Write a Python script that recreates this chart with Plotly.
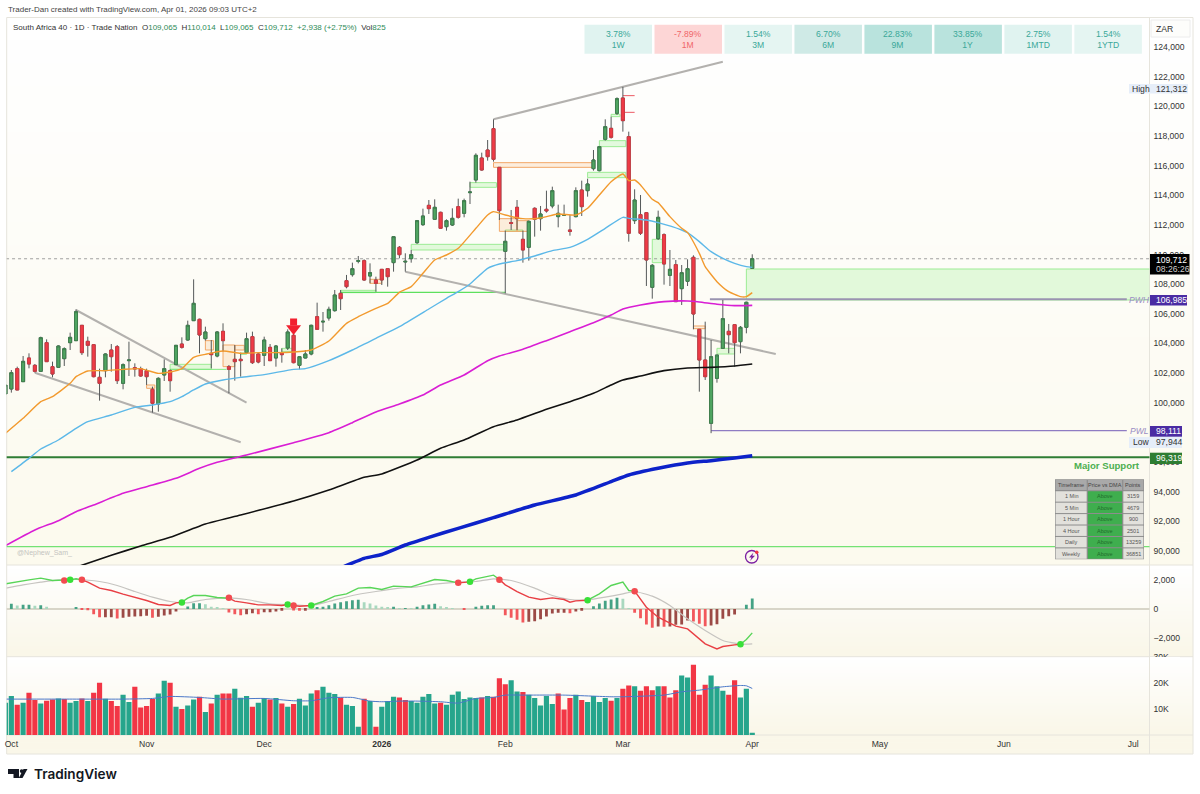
import plotly.graph_objects as go

W = 1200
H = 794
FONT = "Liberation Sans"
TXT = 8.6

# candles, one per trading day starting at the end of Sep 2025
opens = [100588,100925,102297,101420,103017,102522,102117,104051,102432,102387,
         102972,104051,104186,105221,104141,103916,101712,102162,103556,103781,
         101307,102837,102365,102297,102162,100903,99913,101870,102162,102567,
         103961,104231,105536,105626,104321,103332,103152,104816,102432,102927,
         102927,103377,104456,103287,103197,103736,103017,103377,103691,104546,
         102522,103017,103287,105805,105446,105716,106210,107380,108234,108639,
         109539,109584,108549,108279,108999,109044,109450,110484,109494,109719,
         110798,112013,113317,112373,112845,111878,111990,113228,112778,114172,
         115027,116511,117051,118490,115881,110214,112148,113183,111024,110484,
         113115,112418,113048,113273,112553,112643,111653,112553,114352,114307,
         115791,115656,117770,118513,119525,120559,117950,112283,112688,112823,
         107785,111069,111338,108594,109314,107694,108189,109809,104951,102882,
         98609,101645,103669,104816,105266,104119,105086,109065]
highs = [101195,102207,102432,103152,103332,102612,104456,104276,102770,103871,
         103736,104726,106300,105221,104456,103961,102297,103332,103961,103894,
         102657,104118,102657,102432,102297,101083,101712,102927,102252,103894,
         104411,105536,108324,105671,105131,104231,104839,105356,102545,103894,
         103377,104726,104794,103332,104456,103961,103894,103669,104951,104636,
         103152,103556,105266,106750,106120,106480,107605,107605,108620,109449,
         109899,109674,109404,108504,108999,109044,111248,110573,110079,110304,
         112328,113093,113677,113722,112890,112373,113115,113768,113768,114914,
         116826,116871,117725,119120,115881,111608,113003,113677,111608,112283,
         113183,113273,114307,114577,113363,113363,112665,114532,114982,115117,
         117051,117321,119120,119300,120604,121312,118288,114397,114015,112868,
         109359,112958,111428,110303,109629,109291,109674,109944,104951,105468,
         104231,103219,106930,105311,105266,105176,106817,110014]
lows = [100588,100680,100858,101420,102320,102027,102072,102770,101712,102387,
        102477,103556,104186,103219,103107,101712,100138,101712,102095,101262,
        100903,101802,101757,101757,101195,99328,99395,101465,100745,102545,
        103646,104186,105536,103332,104186,102320,103062,103444,100633,101487,
        101757,103332,102612,102657,102477,102837,102432,102702,103556,102657,
        102252,102994,103197,104906,104794,105536,106142,106255,107717,108504,
        109404,108234,108054,107492,107942,107830,108842,109742,108842,109449,
        110709,111923,112733,112328,111743,111608,111923,112418,112508,113407,
        114847,115656,116331,116264,112328,107380,111653,111653,109449,109584,
        111204,111608,112823,113115,111833,112598,111271,112508,112598,113902,
        115656,115611,117681,117816,119412,118288,110866,112058,111316,107875,
        107020,110978,107965,107874,106817,106592,107874,104951,100745,101532,
        97944,101352,103669,103331,102432,103331,104681,109065]
closes = [101195,102027,100858,102792,102612,102117,104389,102770,101937,103826,
          103646,104411,106142,103376,103871,101757,101307,103287,103107,101487,
          102567,102882,102275,101802,101757,99958,101645,102297,101487,103871,
          103736,105221,106705,104569,104771,103242,104771,104186,102252,102770,
          102837,104321,102702,102747,104231,102837,103826,103242,104771,102702,
          103107,103287,105221,104951,105491,106300,107267,107020,107830,109044,
          109584,108279,108774,108054,108280,108505,111204,109989,109539,109989,
          112283,112598,113093,113183,111765,112283,112440,112508,113632,114217,
          116691,115701,116601,116421,112958,110889,112103,112418,110304,112238,
          112373,112733,112935,114307,112778,112688,111563,114307,113228,114757,
          116376,117276,118625,117906,120514,119030,111428,113677,111428,109629,
          109269,112508,109359,108999,106817,108774,109044,105985,102882,101757,
          103107,103219,105671,104591,104051,105086,106774,109712]
days = list(range(len(opens)))

# moving averages, read at knots
ma_orange_x = [0,3,6,8,11,12,14,17,20,23,26,28,30,32,34,37,40,43,46,49,52,55,58,60,63,65,67,69,71,73,75,77,80,82,83,85,88,91,94,97,99,101,103,105,106,107,108,110,111,113,115,116,118,119,121,123,125,126,127]
ma_orange_y = [97934,98946,100070,100408,101307,101757,102140,102162,102252,102297,101982,102072,102297,103062,103264,103489,103332,103377,103377,103422,103556,104164,105356,105800,106368,106705,107447,107830,108729,109629,109966,110416,111766,112665,112890,112665,112418,112462,112733,112665,113115,114014,114914,115432,114981,115027,114690,113722,113497,112553,111766,111473,110079,109179,108167,107492,107155,107155,107425]
ma_blue_x = [1,4,6,9,12,14,18,22,25,28,30,32,34,37,40,44,49,51,55,59,63,67,72,75,77,79,82,84,87,90,93,96,99,102,105,106,109,111,115,116,118,120,122,124,126,127]
ma_blue_y = [95348,96247,96877,97484,98271,98721,99171,99688,99846,100070,100408,100858,101262,101532,101712,101892,102252,102297,102837,103556,104344,105131,106323,107043,107492,108010,109067,109359,109584,109899,110259,110484,111024,111766,112508,112440,112328,112148,111653,111473,110866,110191,109741,109404,109179,109134]
ma_magenta_x = [0,5,9,12,15,20,24,29,33,36,41,49,55,59,63,67,71,74,78,82,84,88,92,96,100,103,105,108,112,116,118,121,124,127]
ma_magenta_y = [90355,91412,92042,92649,93099,93886,94336,94898,95573,95977,96472,97304,97979,98654,99373,99913,100520,101195,101870,102837,103152,103602,104186,104793,105401,105918,106323,106593,106818,106863,106795,106638,106548,106570]
ma_black_x = [12,18,23,28,34,40,49,55,61,64,70,74,78,83,87,92,96,100,103,105,108,112,116,120,124,127]
ma_black_y = [88900,89703,90333,90917,91817,92424,93368,94111,94965,95190,96135,96922,97484,98384,98834,99553,100070,100633,101195,101532,101802,102162,102342,102387,102477,102612]
ma_thick_x = [57,61,64,68,72,77,83,90,97,103,106,111,116,120,124,127]
ma_thick_y = [88850,89500,89760,90400,90917,91524,92244,93099,93773,94673,95123,95573,95932,96090,96270,96427]

# drawn trendlines
trend_x0 = [12,5,68,83]
trend_x1 = [41,40,131,122]
trend_y0 = [106255,102025,108840,119122]
trend_y1 = [100000,97328,103287,123008]

# boxes on the price pane
green_x0 = [28,47,40,57,69,79,99,101,103,110,85,121,126]
green_x1 = [35,49,41,63,85,83.5,105.5,105.5,104.5,111.7,88,124,200]
green_lo = [102252,103444,103264,107425,110304,114532,115184,117276,119300,109449,111563,103286,106930]
green_hi = [102590,103669,103354,107583,110686,114847,115544,117681,119457,111024,111653,103669,109021]
orange_x0 = [34,37,39,24,62,83,84,87,117]
orange_x1 = [35.4,39,40.6,25.4,64,100,87,89,119]
orange_lo = [103556,102432,103556,100970,108054,115881,111563,111563,104996]
orange_hi = [104186,103894,103871,101195,108324,116196,112418,112283,105176]

# horizontal levels
level_y = [96319,90285,106985,98111,102252,107447,120717,119592,109712]
level_x0 = [-5,-5,119.8,120,28,57,105,105,-5]
level_x1 = [200,200,190.7,190.7,37.6,85,107,107,200]
level_color = ["#2f7d34","#74e274","#9a94b0","#8e7cc3","#7fe87f","#5ee05e","#ec5a64","#ec5a64","#8a8a8a"]
level_width = [2,1.2,2,1.3,1,1.2,1,1,0.8]
level_dash = ["solid","solid","solid","solid","solid","solid","solid","solid","dot"]

# macd pane
macd_x = [0,2,4,6,8,10,11,12,13,14,16,18,20,22,24,26,28,29,30,31,32,34,36,38,39,41,43,45,47,48,49,50,52,54,56,58,60,62,64,66,69,71,73,75,77,79,80,83,84,85,87,89,91,93,95,96,97,99,101,103,105,106,107,108,109,111,114,116,117,119,121,122,124,125,126,127]
macd_y = [1735,1896,2011,2126,1965,1988,2011,2080,2011,1850,1436,1275,1022,815,585,309,240,424,470,746,930,930,792,746,539,424,286,286,240,309,240,194,240,516,884,1045,1436,1482,1344,1574,1528,1804,2034,1965,1804,1873,2080,2333,2034,1666,1206,815,654,769,654,470,562,608,1045,1620,1850,1275,1229,700,125,-565,-1186,-1370,-1715,-2405,-2750,-2589,-2474,-2428,-2106,-1646]
signal_x = [0,3,6,9,12,16,19,22,25,28,31,34,38,41,45,49,52,55,59,63,67,70,73,77,80,83,86,90,93,96,99,102,105,107,110,113,116,119,122,125,127]
signal_y = [1436,1666,1850,2011,2034,1896,1620,1206,815,516,424,654,769,654,355,286,240,516,930,1206,1436,1528,1712,1850,1896,2080,1965,1436,930,654,631,815,1045,1206,884,240,-680,-1485,-2175,-2428,-2405]
cross_x = [10,11,13,30,38,48,49,52,77,79,84,99,107,125]
cross_y = [1965,2011,2011,447,769,309,240,240,1804,1873,2011,608,1229,-2428]
cross_side = "RGRGRGRGRGRGRG"
hist = [0,356,242,288,288,218,264,150,0,0,0,0,80,-35,-80,-356,-564,-564,-564,-656,
        -610,-540,-518,-495,-472,-610,-540,-449,-380,-172,0,172,403,403,334,150,126,35,-242,-356,
        -426,-356,-288,-356,-218,-218,-172,-126,0,-104,-126,-126,0,104,150,264,380,472,540,610,
        632,472,380,242,150,80,150,57,57,10,150,264,310,356,195,126,35,0,-58,0,
        150,218,264,264,0,-426,-610,-748,-932,-886,-840,-702,-518,-310,-264,-264,-288,-172,-126,0,
        195,380,564,655,770,700,57,-264,-632,-1070,-1300,-1207,-1230,-1207,-1092,-1070,-794,-862,-1023,-1184,
        -1138,-1046,-678,-495,-380,0,288,725]

# volume pane
volume = [12435,15000,11666,12435,16281,13461,12179,13205,13717,14102,
          13846,12435,13076,14102,13076,16281,20127,13974,13076,11153,
          15512,12692,18589,10641,11153,13846,16025,20897,20127,10897,
          10000,11410,13717,14743,8846,12179,15512,16025,16025,17820,
          14358,15000,10897,12435,14230,13717,14230,12179,10897,11923,
          13974,11410,16025,17307,18589,16281,15769,14487,11666,11153,
          3205,13974,13076,3205,10897,13076,14743,14487,13461,13076,
          12435,14743,15769,12179,12435,11666,15512,16794,13846,14487,
          14230,14487,15000,14743,21922,19615,21153,16794,16538,15512,
          14230,11410,15000,11923,16025,9871,14230,15512,13461,12692,
          15000,12692,14230,13205,14230,17820,19102,18845,17051,18845,
          17307,18845,18845,14487,17307,22948,22179,27050,15512,19358,
          22948,18845,17051,15512,21153,14487,17820,825]
volume_side = ("GGRGRRGRRG" "RGGRGRRGRR" "GGRRRRGGRG" "RGGRGRGRRG" "GGRGGRGRGR" "GGGRGGGRGG"
               "GRGRGGGRRG" "GGGGRGGGGG" "GRGRRRGGRG" "GGGGRRRGRG" "GGGRGRRGRR" "RGRRRGGRRR" "GGGRRGGG")
vol_ma_x = [0,10,20,25,28,33,37,44,49,52,55,59,62,64,67,70,74,77,80,83,85,88,95,103,105,112,115,118,122,125,126,127]
vol_ma_y = [13846,13846,13846,14102,14871,14487,13846,14102,13205,13205,14358,14487,13076,12820,13076,13076,12820,12307,14102,14487,15384,15384,15384,14743,14743,15384,16666,17307,18589,19102,18974,17948]

# axes, 98,000 sits fully behind the PWL tag
price_ticks = [v for v in range(90000, 126000, 2000) if v != 98000]
month_ticks = [1,24,44,64,85,105,127,148.7,169.8,191.8]
month_names = ["Oct","Nov","Dec","<b>2026</b>","Feb","Mar","Apr","May","Jun","Jul"]

# performance strip
perf_values = ["3.78%","-7.89%","1.54%","6.70%","22.83%","33.85%","2.75%","1.54%"]
perf_names = ["1W","1M","3M","6M","9M","1Y","1MTD","1YTD"]
perf_fill = ["#e0f3f0","#fdd6d6","#e5f5f2","#cfeae6","#b9e3dd","#b9e3dd","#e0f3f0","#e5f5f2"]
perf_text = ["#3ba899","#f0666a","#3ba899","#3ba899","#3ba899","#3ba899","#3ba899","#3ba899"]

# dma table
tf_names = ["1 Min","5 Min","1 Hour","4 Hour","Daily","Weekly"]
tf_state = ["Above"]*6
tf_points = ["3159","4679","900","2501","13259","36851"]


def px(x):
    return x/W

def py(y):
    return 1-y/H

def mix(a, b, t):
    ca = [int(a[i:i+2], 16) for i in (1,3,5)]
    cb = [int(b[i:i+2], 16) for i in (1,3,5)]
    return "rgb(%d,%d,%d)" % tuple(ca[i]+(cb[i]-ca[i])*t for i in range(3))

shapes = []
notes = []

def box(x0, y0, x1, y1, fill, layer="below", line=None, lw=0):
    shapes.append(dict(type="rect", xref="paper", yref="paper", x0=px(x0), x1=px(x1), y0=py(y0), y1=py(y1),
                       fillcolor=fill, layer=layer, line=dict(width=lw, color=line or fill)))

def rule(x0, y0, x1, y1, color="#e6e4dc", w=1, layer="below"):
    shapes.append(dict(type="line", xref="paper", yref="paper", x0=px(x0), x1=px(x1), y0=py(y0), y1=py(y1),
                       layer=layer, line=dict(width=w, color=color)))

def label(x, y, text, size=TXT, color="#333333", anchor="left", font=FONT, weight="normal"):
    notes.append(dict(xref="paper", yref="paper", x=px(x), y=py(y), text=text, showarrow=False, xanchor=anchor,
                      yanchor="middle", align=anchor, borderpad=0,
                      font=dict(family=font, size=size, color=color, weight=weight)))

def poly(points, fill="#000000", layer="above"):
    d = "M " + " L ".join("%f,%f" % (px(x), py(y)) for x, y in points) + " Z"
    shapes.append(dict(type="path", xref="paper", yref="paper", path=d, fillcolor=fill, layer=layer, line=dict(width=0)))

LEFT, RIGHT_PANE, RIGHT = 6.7, 1149.5, 1193
TOP, MAIN_BOT, MACD_BOT, VOL_BOT, BOT = 17.5, 565, 656.7, 735, 754

# pane backgrounds fade from white to cream
for y0, y1, c0, c1 in [(TOP, MAIN_BOT, "#ffffff", "#fcfaee"), (MAIN_BOT, MACD_BOT, "#ffffff", "#faf7e9"),
                       (MACD_BOT, VOL_BOT, "#ffffff", "#faf7e9"), (VOL_BOT, BOT, "#faf7e9", "#faf7e9")]:
    n = 24
    for i in range(n):
        ya = y0+(y1-y0)*i/n
        yb = y0+(y1-y0)*(i+1)/n+0.6
        box(LEFT, ya, RIGHT, min(yb, y1), mix(c0, c1, i/(n-1)))

for y in [TOP, MAIN_BOT, MACD_BOT, VOL_BOT, BOT]:
    rule(LEFT, y, RIGHT, y)
rule(RIGHT_PANE, TOP, RIGHT_PANE, BOT)
rule(LEFT, TOP, LEFT, BOT)
rule(RIGHT, TOP, RIGHT, BOT)

for x0, x1, lo, hi in zip(green_x0, green_x1, green_lo, green_hi):
    shapes.append(dict(type="rect", xref="x", yref="y", x0=x0, x1=x1, y0=lo, y1=hi, layer="below",
                       fillcolor="rgba(150,238,140,0.26)", line=dict(width=1, color="#9cec94")))
for x0, x1, lo, hi in zip(orange_x0, orange_x1, orange_lo, orange_hi):
    shapes.append(dict(type="rect", xref="x", yref="y", x0=x0, x1=x1, y0=lo, y1=hi, layer="below",
                       fillcolor="rgba(245,180,120,0.22)", line=dict(width=1, color="#f2a868")))
for y, x0, x1, c, w, d in zip(level_y, level_x0, level_x1, level_color, level_width, level_dash):
    shapes.append(dict(type="line", xref="x", yref="y", x0=x0, x1=x1, y0=y, y1=y, layer="below",
                       line=dict(width=w, color=c, dash=d)))
for x0, x1, y0, y1 in zip(trend_x0, trend_x1, trend_y0, trend_y1):
    shapes.append(dict(type="line", xref="x", yref="y", x0=x0, x1=x1, y0=y0, y1=y1, layer="below",
                       line=dict(width=2, color="#b3b1ae")))
shapes.append(dict(type="line", xref="x", yref="y2", x0=-5, x1=200, y0=0, y1=0, layer="below",
                   line=dict(width=2, color="#d8d5c8")))

fig = go.Figure()

# wicks first, then the bodies on top so the wick colour stays out of the fill border
fig.add_trace(go.Candlestick(x=days, open=opens, high=highs, low=lows, close=closes, whiskerwidth=0,
                             increasing=dict(fillcolor="#4fa561", line=dict(color="#55595a", width=1)),
                             decreasing=dict(fillcolor="#ef3b46", line=dict(color="#55595a", width=1)),
                             showlegend=False, hoverinfo="skip"))
body_top = [max(o, c) for o, c in zip(opens, closes)]
body_bot = [min(o, c) for o, c in zip(opens, closes)]
fig.add_trace(go.Candlestick(x=days, open=opens, high=body_top, low=body_bot, close=closes, whiskerwidth=0,
                             increasing=dict(fillcolor="#4fa561", line=dict(color="#3f7f4e", width=1)),
                             decreasing=dict(fillcolor="#f03a46", line=dict(color="#cf3a42", width=1)),
                             showlegend=False, hoverinfo="skip"))

for xs, ys, c, w in [(ma_thick_x, ma_thick_y, "#0d22c9", 3.5), (ma_black_x, ma_black_y, "#111111", 1.6),
                     (ma_magenta_x, ma_magenta_y, "#d91ed4", 1.6), (ma_blue_x, ma_blue_y, "#5cb8e8", 1.4),
                     (ma_orange_x, ma_orange_y, "#f29a2e", 1.4)]:
    fig.add_trace(go.Scatter(x=xs, y=ys, mode="lines", line=dict(color=c, width=w, shape="spline", smoothing=0.5),
                             showlegend=False, hoverinfo="skip"))

# arrow over the December candle
fig.add_trace(go.Scatter(x=[49,49], y=[105446,105000], mode="markers", opacity=1,
                         marker=dict(symbol=["square","triangle-down"], size=[7,13], color="#f2202f", opacity=1,
                                     line=dict(width=0)),
                         showlegend=False, hoverinfo="skip"))

# macd histogram
hist_colors = []
for i, v in enumerate(hist):
    prev = hist[i-1] if i else 0
    if v >= 0:
        hist_colors.append("#45a285" if v >= prev else "#a9d8bf")
    else:
        hist_colors.append("#f2585c" if v < prev else "#9c4a46")
fig.add_trace(go.Bar(x=days, y=hist, width=0.48, marker=dict(color=hist_colors, line=dict(width=0)),
                     yaxis="y2", showlegend=False, hoverinfo="skip"))
fig.add_trace(go.Scatter(x=signal_x, y=signal_y, mode="lines", yaxis="y2", showlegend=False, hoverinfo="skip",
                         line=dict(color="#c6c4c0", width=1.2, shape="spline", smoothing=0.5)))

# macd line flips colour at every cross
edges = [0]+cross_x+[127]
sides = "G"+cross_side
for a, b, s in zip(edges[:-1], edges[1:], sides):
    xs = [x for x in macd_x if a <= x <= b]
    ys = [y for x, y in zip(macd_x, macd_y) if a <= x <= b]
    fig.add_trace(go.Scatter(x=xs, y=ys, mode="lines", yaxis="y2", showlegend=False, hoverinfo="skip",
                             line=dict(color="#58d558" if s == "G" else "#e83f44", width=1.4)))
fig.add_trace(go.Scatter(x=cross_x, y=cross_y, mode="markers", yaxis="y2", showlegend=False, hoverinfo="skip",
                         marker=dict(size=6.5, color=["#38e038" if s == "G" else "#f24b50" for s in cross_side],
                                     line=dict(width=0))))

fig.add_trace(go.Bar(x=days, y=volume, width=0.88, yaxis="y3", showlegend=False, hoverinfo="skip",
                     marker=dict(color=["#26a58c" if s == "G" else "#f23645" for s in volume_side], line=dict(width=0))))
fig.add_trace(go.Scatter(x=vol_ma_x, y=vol_ma_y, mode="lines", yaxis="y3", showlegend=False, hoverinfo="skip",
                         line=dict(color="#4a78c8", width=1, shape="spline", smoothing=0.5)))

# header text
label(7, 10, "Trader-Dan created with TradingView.com, Apr 01, 2026 09:03 UTC+2", 8, "#444444")
gv = '<span style="color:#2e8b57">%s</span>'
label(12, 28, "South Africa 40 · 1D · Trade Nation&nbsp;&nbsp;O" + gv % "109,065" + "&nbsp;&nbsp;H" + gv % "110,014"
      + "&nbsp;&nbsp;L" + gv % "109,065" + "&nbsp;&nbsp;C" + gv % "109,712" + "&nbsp;&nbsp;" + gv % "+2,938 (+2.75%)"
      + "&nbsp;&nbsp;Vol" + gv % "825", 8, "#333333")

# performance strip
for i, (v, n, f, c) in enumerate(zip(perf_values, perf_names, perf_fill, perf_text)):
    x0 = 584.5+69.98*i
    box(x0, 24.7, x0+67.5, 53.7, f, layer="above")
    label(x0+33.7, 39.2, v+"<br>"+n, TXT, c, anchor="center")

# price axis tags
box(1151, 20, 1190, 37, "#fdfdfb", layer="above", line="#ececec", lw=1)
label(1155, 29, "ZAR", TXT, "#333333")
box(1129, 84, 1188, 93.5, "#e6eef9", layer="above")
label(1131, 88.7, "High", TXT, "#333333")
label(1155, 88.7, "121,312", TXT, "#333333")
box(1150, 254, 1189.5, 274.5, "#000000", layer="above")
label(1155, 259.5, "109,712", TXT, "#ffffff")
label(1155, 269, "08:26:26", TXT, "#cfcfcf")
box(1150, 295, 1187, 305.4, "#4a2ca3", layer="above")
label(1155, 300.2, "106,985", TXT, "#ffffff")
box(1150, 426, 1182, 436.7, "#4a2ca3", layer="above")
label(1155, 431.3, "98,111", TXT, "#ffffff")
box(1129, 437, 1182, 448, "#e6eef9", layer="above")
label(1132, 442.5, "Low", TXT, "#333333")
label(1155, 442.5, "97,944", TXT, "#333333")
box(1150, 452.7, 1182, 464, "#2e7d32", layer="above")
label(1155, 458.3, "96,319", TXT, "#ffffff")
box(1150, 656.9, 1180, 660, "#ffffff", layer="above")

label(1128, 300, "<i>PWH</i>", 8.6, "#9a8cc4")
label(1129, 431, "<i>PWL</i>", 8.6, "#9a8cc4")
label(1141, 466, "<b>Major Support</b>", 9.6, "#4caf50", anchor="right")
label(16, 553, "@Nephew_Sam_", 7, "#c4c4c0")

# dma table
tx = [1055, 1087.3, 1122.7, 1144]
ty0, row_h = 479.3, 80/7
box(tx[0], ty0, tx[3], ty0+row_h*7, "#8d8d8d", layer="above")
for c, head in enumerate(["Timeframe","Price vs DMA","Points"]):
    box(tx[c]+0.6, ty0+0.6, tx[c+1]-0.6, ty0+row_h-0.6, "#a9a9a9", layer="above")
    label((tx[c]+tx[c+1])/2, ty0+row_h/2, head, 5.5, "#444444", anchor="center")
for r, row in enumerate(zip(tf_names, tf_state, tf_points)):
    yy = ty0+row_h*(r+1)
    for c, val in enumerate(row):
        box(tx[c]+0.6, yy+0.5, tx[c+1]-0.6, yy+row_h-0.5, "#3fae4e" if c == 1 else "#e2e1dc", layer="above")
        label((tx[c]+tx[c+1])/2, yy+row_h/2, val, 5.5, "#1f6b2a" if c == 1 else "#555555", anchor="center")

# lightning badge
shapes.append(dict(type="circle", xref="paper", yref="paper", x0=px(745.5), x1=px(758), y0=py(563), y1=py(550.5),
                   layer="above", fillcolor="rgba(0,0,0,0)", line=dict(width=1.3, color="#7b1fa2")))
poly([(753.5,552.5),(749,557.5),(751.5,557.5),(750,561),(755,555.7),(752.3,555.7)], "#7b1fa2")
shapes.append(dict(type="circle", xref="paper", yref="paper", x0=px(755), x1=px(758.5), y0=py(554), y1=py(550.5),
                   layer="above", fillcolor="#f23645", line=dict(width=0)))

# TradingView logo
poly([(8,769),(19,769),(19,778),(13.5,778),(13.5,774),(8,774)], "#131722")
shapes.append(dict(type="circle", xref="paper", yref="paper", x0=px(19.8), x1=px(23.6), y0=py(773), y1=py(769.2),
                   layer="above", fillcolor="#131722", line=dict(width=0)))
poly([(23.5,769),(27.5,769),(22.5,778),(18.8,778)], "#131722")
label(33, 774, "TradingView", 13.6, "#131722", font="Inter", weight=600)

tickfont = dict(family=FONT, size=TXT, color="#333333")
fig.update_layout(
    width=W, height=H, margin=dict(l=0, r=0, t=0, b=0, autoexpand=False), autosize=False,
    paper_bgcolor="#ffffff", plot_bgcolor="rgba(0,0,0,0)",
    barmode="overlay", boxgap=0.27, showlegend=False, dragmode=False,
    shapes=shapes, annotations=notes,
    xaxis=dict(domain=[px(LEFT), px(RIGHT_PANE)], range=[0.21, 194.56], anchor="y3", showgrid=False, zeroline=False,
               showline=False, ticks="", tickmode="array", tickvals=month_ticks, ticktext=month_names,
               tickfont=tickfont, ticklabelstandoff=2, rangeslider=dict(visible=False)),
    yaxis=dict(domain=[py(MAIN_BOT), py(TOP)], range=[89050, 125990], anchor="x", side="right", showgrid=False,
               zeroline=False, showline=False, ticks="", tickmode="array", tickvals=price_ticks,
               ticktext=["{:,}".format(v) for v in price_ticks], tickfont=tickfont, ticklabelstandoff=3),
    yaxis2=dict(domain=[py(MACD_BOT), py(MAIN_BOT)], range=[-3290, 3034], anchor="x", side="right", showgrid=False,
                zeroline=False, showline=False, ticks="", tickmode="array", tickvals=[-2000,0,2000],
                ticktext=["−2,000","0","2,000"], tickfont=tickfont, ticklabelstandoff=3),
    yaxis3=dict(domain=[py(VOL_BOT), py(MACD_BOT)], range=[0, 30200], anchor="x", side="right", showgrid=False,
                zeroline=False, showline=False, ticks="", tickmode="array", tickvals=[10000,20000,30000],
                ticktext=["10K","20K","30K"], tickfont=tickfont, ticklabelstandoff=3),
)

fig.write_html("out.html", post_script="document.body.style.margin='0';", config=dict(displayModeBar=False))
